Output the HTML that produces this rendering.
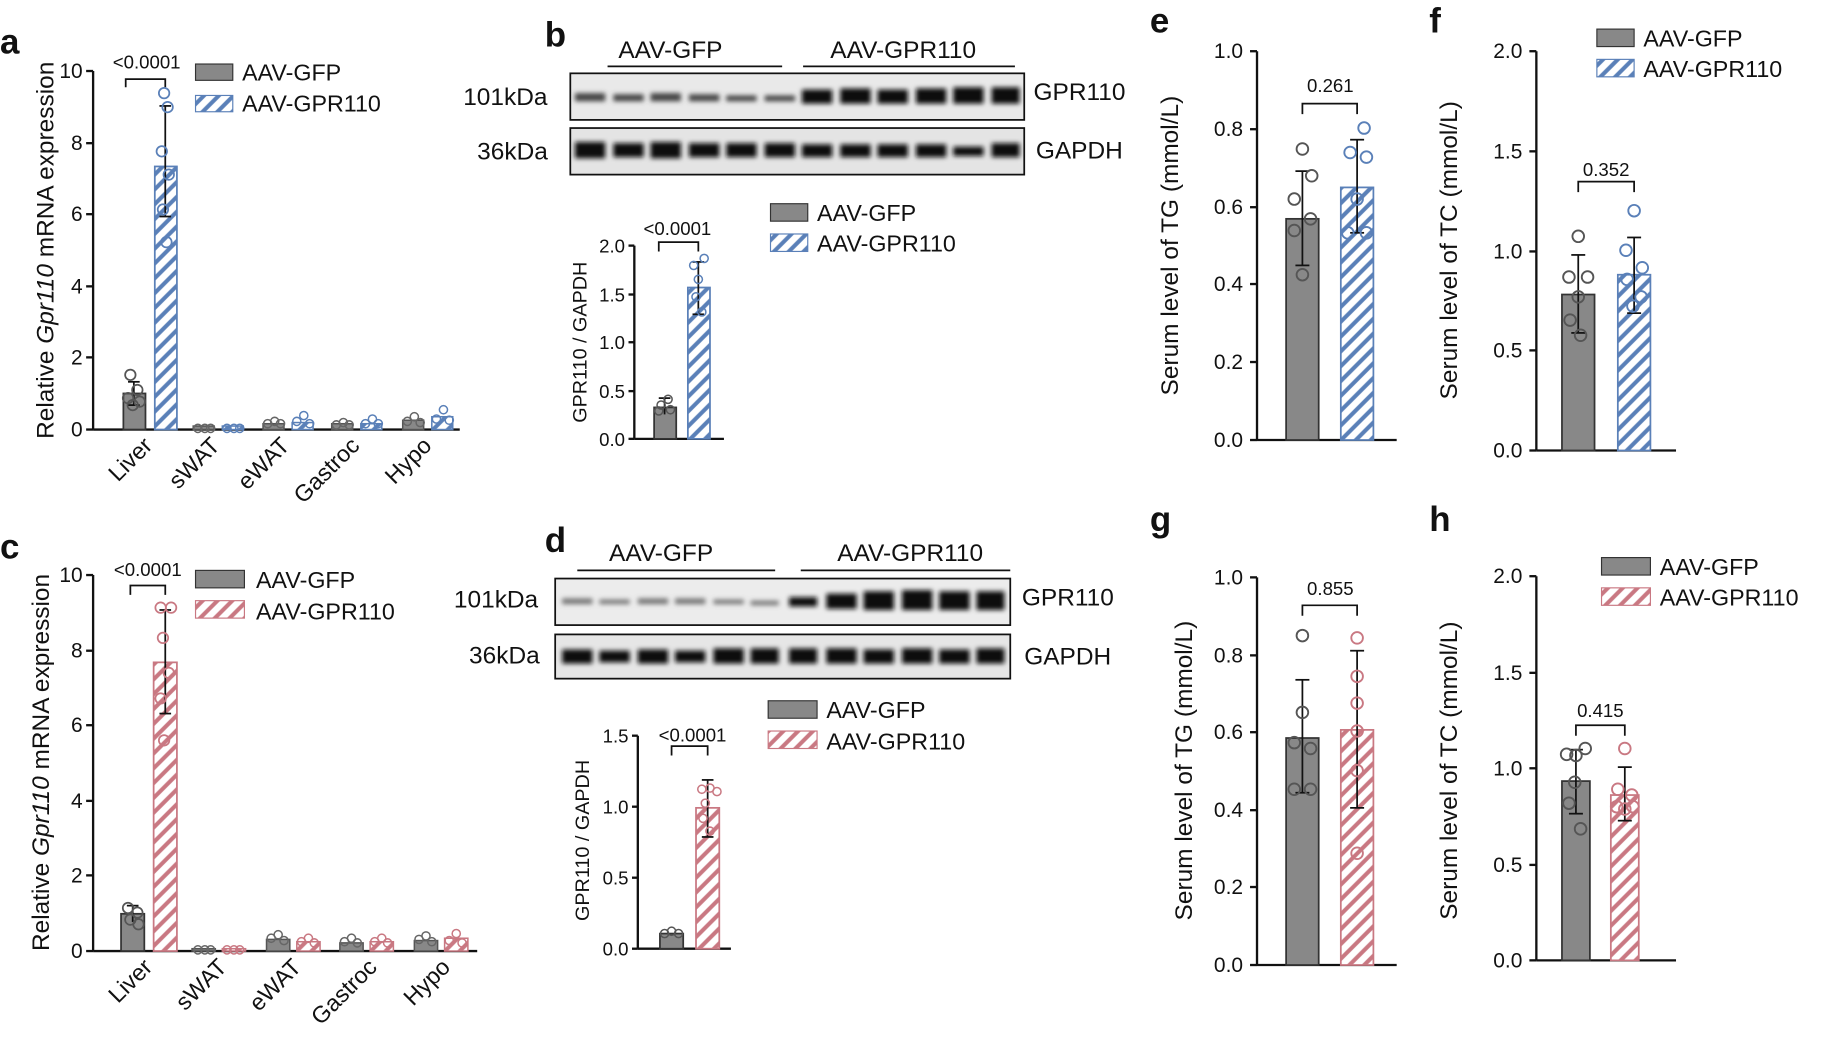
<!DOCTYPE html>
<html><head><meta charset="utf-8"><style>html,body{margin:0;padding:0;background:#fff}svg{display:block}text{font-family:"Liberation Sans",Arial,sans-serif;fill:#111}</style></head><body>
<svg width="1825" height="1043" viewBox="0 0 1568 896" preserveAspectRatio="none" xmlns="http://www.w3.org/2000/svg">
<defs>
<pattern id="hb" width="9" height="9" patternUnits="userSpaceOnUse" patternTransform="rotate(45)"><rect width="9" height="9" fill="#fff"/><line x1="2" y1="0" x2="2" y2="9" stroke="#5a80b8" stroke-width="3.5"/></pattern>
<pattern id="hr" width="9" height="9" patternUnits="userSpaceOnUse" patternTransform="rotate(45)"><rect width="9" height="9" fill="#fff"/><line x1="2" y1="0" x2="2" y2="9" stroke="#c97882" stroke-width="3.5"/></pattern>
<filter id="bl"><feGaussianBlur stdDeviation="2"/></filter>
</defs>
<g font-size="30" font-weight="bold">
<text x="0" y="46">a</text><text x="468" y="40">b</text><text x="0" y="480">c</text><text x="468" y="474">d</text>
<text x="988" y="28">e</text><text x="1228" y="28">f</text><text x="988" y="456">g</text><text x="1228" y="456">h</text>
</g>

<!-- Panel a -->
<g stroke="#111" stroke-width="2" fill="none">
<line x1="80" y1="61" x2="80" y2="369"/><line x1="80" y1="369" x2="395" y2="369"/>
<line x1="74" y1="61" x2="80" y2="61"/><line x1="74" y1="123" x2="80" y2="123"/><line x1="74" y1="184" x2="80" y2="184"/><line x1="74" y1="246" x2="80" y2="246"/><line x1="74" y1="307" x2="80" y2="307"/><line x1="74" y1="369" x2="80" y2="369"/>
</g>
<g font-size="18" text-anchor="end"><text x="71" y="67">10</text><text x="71" y="129">8</text><text x="71" y="190">6</text><text x="71" y="252">4</text><text x="71" y="313">2</text><text x="71" y="375">0</text></g>
<text transform="translate(46,215) rotate(-90)" font-size="21" text-anchor="middle">Relative <tspan font-style="italic">Gpr110</tspan> mRNA expression</text>
<rect x="106" y="338" width="19" height="31" fill="#888" stroke="#333" stroke-width="1.5"/>
<rect x="133" y="143" width="19" height="226" fill="url(#hb)" stroke="#5a80b8" stroke-width="1.5"/>
<g stroke="#111" stroke-width="1.5" fill="none"><line x1="115" y1="328" x2="115" y2="348"/><line x1="110" y1="328" x2="120" y2="328"/><line x1="110" y1="348" x2="120" y2="348"/>
<line x1="142" y1="91" x2="142" y2="186"/><line x1="137" y1="91" x2="147" y2="91"/><line x1="137" y1="186" x2="147" y2="186"/>
<path d="M108 75 V68 H142 V75"/></g>
<g fill="none" stroke="#555" stroke-width="1.5"><circle cx="112" cy="322" r="4.5"/><circle cx="118" cy="335" r="4.5"/><circle cx="110" cy="342" r="4.5"/><circle cx="120" cy="345" r="4.5"/><circle cx="114" cy="348" r="4.5"/></g>
<g fill="none" stroke="#5a80b8" stroke-width="1.5"><circle cx="141" cy="80" r="4.5"/><circle cx="144" cy="92" r="4.5"/><circle cx="139" cy="130" r="4.5"/><circle cx="145" cy="150" r="4.5"/><circle cx="140" cy="180" r="4.5"/><circle cx="143" cy="208" r="4.5"/></g>
<text x="126" y="59" font-size="16" text-anchor="middle">&lt;0.0001</text>
<g fill="#888" stroke="#555" stroke-width="1.3">
<rect x="166" y="366" width="18" height="3"/><rect x="226" y="364" width="18" height="5"/><rect x="285" y="364" width="18" height="5"/><rect x="346" y="361" width="18" height="8"/></g>
<g fill="url(#hb)" stroke="#5a80b8" stroke-width="1.3"><rect x="191" y="366" width="18" height="3"/><rect x="251" y="363" width="18" height="6"/><rect x="310" y="364" width="18" height="5"/><rect x="371" y="358" width="18" height="11"/></g>
<g fill="none" stroke="#666" stroke-width="1.3"><circle cx="170" cy="368" r="3.5"/><circle cx="176" cy="368" r="3.5"/><circle cx="181" cy="368" r="3.5"/><circle cx="230" cy="364" r="3.5"/><circle cx="236" cy="362" r="3.5"/><circle cx="241" cy="364" r="3.5"/><circle cx="289" cy="365" r="3.5"/><circle cx="295" cy="363" r="3.5"/><circle cx="300" cy="365" r="3.5"/><circle cx="350" cy="362" r="3.5"/><circle cx="356" cy="358" r="3.5"/><circle cx="361" cy="363" r="3.5"/></g>
<g fill="none" stroke="#5a80b8" stroke-width="1.3"><circle cx="195" cy="368" r="3.5"/><circle cx="201" cy="368" r="3.5"/><circle cx="206" cy="368" r="3.5"/><circle cx="255" cy="362" r="3.5"/><circle cx="261" cy="357" r="3.5"/><circle cx="266" cy="364" r="3.5"/><circle cx="314" cy="364" r="3.5"/><circle cx="320" cy="360" r="3.5"/><circle cx="325" cy="364" r="3.5"/><circle cx="375" cy="360" r="3.5"/><circle cx="381" cy="352" r="3.5"/><circle cx="386" cy="361" r="3.5"/></g>
<g font-size="20" text-anchor="end">
<text transform="translate(132,384) rotate(-45)">Liver</text><text transform="translate(190,384) rotate(-45)">sWAT</text><text transform="translate(250,384) rotate(-45)">eWAT</text><text transform="translate(310,384) rotate(-45)">Gastroc</text><text transform="translate(372,384) rotate(-45)">Hypo</text></g>
<rect x="168" y="55" width="32" height="14" fill="#888" stroke="#333"/><text x="208" y="69" font-size="20">AAV-GFP</text>
<rect x="168" y="82" width="32" height="14" fill="url(#hb)" stroke="#5a80b8"/><text x="208" y="96" font-size="20">AAV-GPR110</text>

<!-- Panel c -->
<g stroke="#111" stroke-width="2" fill="none">
<line x1="80" y1="494" x2="80" y2="817"/><line x1="80" y1="817" x2="410" y2="817"/>
<line x1="74" y1="494" x2="80" y2="494"/><line x1="74" y1="559" x2="80" y2="559"/><line x1="74" y1="623" x2="80" y2="623"/><line x1="74" y1="688" x2="80" y2="688"/><line x1="74" y1="752" x2="80" y2="752"/><line x1="74" y1="817" x2="80" y2="817"/>
</g>
<g font-size="18" text-anchor="end"><text x="71" y="500">10</text><text x="71" y="565">8</text><text x="71" y="629">6</text><text x="71" y="694">4</text><text x="71" y="758">2</text><text x="71" y="823">0</text></g>
<text transform="translate(42,655) rotate(-90)" font-size="21" text-anchor="middle">Relative <tspan font-style="italic">Gpr110</tspan> mRNA expression</text>
<rect x="104" y="785" width="20" height="32" fill="#888" stroke="#333" stroke-width="1.5"/>
<rect x="132" y="569" width="20" height="248" fill="url(#hr)" stroke="#c97882" stroke-width="1.5"/>
<g stroke="#111" stroke-width="1.5" fill="none"><line x1="142" y1="524" x2="142" y2="613"/><line x1="137" y1="524" x2="147" y2="524"/><line x1="137" y1="613" x2="147" y2="613"/>
<line x1="114" y1="778" x2="114" y2="792"/><line x1="109" y1="778" x2="119" y2="778"/>
<path d="M112 511 V503 H142 V511"/></g>
<g fill="none" stroke="#555" stroke-width="1.5"><circle cx="110" cy="780" r="4.5"/><circle cx="118" cy="784" r="4.5"/><circle cx="112" cy="790" r="4.5"/><circle cx="119" cy="794" r="4.5"/></g>
<g fill="none" stroke="#c97882" stroke-width="1.5"><circle cx="138" cy="522" r="4.5"/><circle cx="147" cy="522" r="4.5"/><circle cx="140" cy="548" r="4.5"/><circle cx="145" cy="578" r="4.5"/><circle cx="138" cy="600" r="4.5"/><circle cx="141" cy="636" r="4.5"/></g>
<text x="127" y="495" font-size="16" text-anchor="middle">&lt;0.0001</text>
<g fill="#888" stroke="#555" stroke-width="1.3">
<rect x="165" y="815" width="20" height="2"/><rect x="229" y="807" width="20" height="10"/><rect x="292" y="810" width="20" height="7"/><rect x="356" y="808" width="20" height="9"/></g>
<g fill="url(#hr)" stroke="#c97882" stroke-width="1.3"><rect x="191" y="815" width="20" height="2"/><rect x="255" y="809" width="20" height="8"/><rect x="318" y="809" width="20" height="8"/><rect x="382" y="806" width="20" height="11"/></g>
<g fill="none" stroke="#666" stroke-width="1.3"><circle cx="170" cy="816" r="3.5"/><circle cx="176" cy="816" r="3.5"/><circle cx="181" cy="816" r="3.5"/><circle cx="233" cy="806" r="3.5"/><circle cx="239" cy="803" r="3.5"/><circle cx="244" cy="808" r="3.5"/><circle cx="296" cy="809" r="3.5"/><circle cx="302" cy="806" r="3.5"/><circle cx="307" cy="810" r="3.5"/><circle cx="360" cy="807" r="3.5"/><circle cx="366" cy="804" r="3.5"/><circle cx="371" cy="809" r="3.5"/></g>
<g fill="none" stroke="#c97882" stroke-width="1.3"><circle cx="195" cy="816" r="3.5"/><circle cx="201" cy="816" r="3.5"/><circle cx="206" cy="816" r="3.5"/><circle cx="259" cy="809" r="3.5"/><circle cx="265" cy="806" r="3.5"/><circle cx="270" cy="810" r="3.5"/><circle cx="322" cy="809" r="3.5"/><circle cx="328" cy="806" r="3.5"/><circle cx="333" cy="810" r="3.5"/><circle cx="386" cy="808" r="3.5"/><circle cx="392" cy="802" r="3.5"/><circle cx="397" cy="810" r="3.5"/></g>
<g font-size="20" text-anchor="end">
<text transform="translate(132,832) rotate(-45)">Liver</text><text transform="translate(196,832) rotate(-45)">sWAT</text><text transform="translate(260,832) rotate(-45)">eWAT</text><text transform="translate(325,832) rotate(-45)">Gastroc</text><text transform="translate(388,832) rotate(-45)">Hypo</text></g>
<rect x="168" y="490" width="42" height="15" fill="#888" stroke="#333"/><text x="220" y="505" font-size="20">AAV-GFP</text>
<rect x="168" y="516" width="42" height="15" fill="url(#hr)" stroke="#c97882"/><text x="220" y="532" font-size="20">AAV-GPR110</text>

<!-- Panel b blots -->
<g font-size="21" text-anchor="middle"><text x="576" y="50">AAV-GFP</text><text x="776" y="50">AAV-GPR110</text></g>
<line x1="522" y1="57" x2="672" y2="57" stroke="#111" stroke-width="1.5"/><line x1="690" y1="57" x2="872" y2="57" stroke="#111" stroke-width="1.5"/>
<rect x="490" y="63" width="390" height="40" fill="#e9e9e9" stroke="#111" stroke-width="1.5"/>
<rect x="490" y="110" width="390" height="40" fill="#e4e4e4" stroke="#111" stroke-width="1.5"/>
<g filter="url(#bl)">
<g fill="#444"><rect x="494" y="80" width="26" height="7"/><rect x="527" y="81" width="26" height="6"/><rect x="559" y="80" width="26" height="7"/><rect x="592" y="81" width="26" height="6"/><rect x="624" y="82" width="26" height="5"/><rect x="657" y="82" width="26" height="5"/></g>
<g fill="#111"><rect x="689" y="77" width="26" height="12"/><rect x="722" y="76" width="26" height="13"/><rect x="754" y="77" width="26" height="12"/><rect x="787" y="76" width="26" height="13"/><rect x="819" y="75" width="26" height="14"/><rect x="852" y="75" width="24" height="14"/></g>
<g fill="#111"><rect x="494" y="122" width="26" height="14"/><rect x="527" y="123" width="26" height="12"/><rect x="559" y="122" width="26" height="14"/><rect x="592" y="123" width="26" height="12"/><rect x="624" y="123" width="26" height="12"/><rect x="657" y="123" width="26" height="12"/><rect x="689" y="124" width="26" height="11"/><rect x="722" y="124" width="26" height="11"/><rect x="754" y="124" width="26" height="11"/><rect x="787" y="124" width="26" height="11"/><rect x="819" y="126" width="26" height="8"/><rect x="852" y="123" width="24" height="12"/></g>
</g>
<g font-size="21"><text x="398" y="90">101kDa</text><text x="410" y="137">36kDa</text><text x="888" y="86">GPR110</text><text x="890" y="136">GAPDH</text></g>
<!-- b chart -->
<g stroke="#111" stroke-width="2" fill="none"><line x1="545" y1="211" x2="545" y2="377"/><line x1="545" y1="377" x2="622" y2="377"/>
<line x1="540" y1="211" x2="545" y2="211"/><line x1="540" y1="253" x2="545" y2="253"/><line x1="540" y1="294" x2="545" y2="294"/><line x1="540" y1="336" x2="545" y2="336"/><line x1="540" y1="377" x2="545" y2="377"/></g>
<g font-size="16" text-anchor="end"><text x="537" y="217">2.0</text><text x="537" y="259">1.5</text><text x="537" y="300">1.0</text><text x="537" y="342">0.5</text><text x="537" y="383">0.0</text></g>
<text transform="translate(504,294) rotate(-90)" font-size="17" text-anchor="middle">GPR110 / GAPDH</text>
<rect x="562" y="350" width="19" height="27" fill="#888" stroke="#333" stroke-width="1.5"/>
<rect x="591" y="247" width="19" height="130" fill="url(#hb)" stroke="#5a80b8" stroke-width="1.5"/>
<g stroke="#111" stroke-width="1.5" fill="none"><line x1="600" y1="225" x2="600" y2="270"/><line x1="595" y1="225" x2="605" y2="225"/><line x1="595" y1="270" x2="605" y2="270"/><line x1="571" y1="342" x2="571" y2="356"/><line x1="566" y1="342" x2="576" y2="342"/><path d="M566 216 V208 H600 V216"/></g>
<g fill="none" stroke="#555" stroke-width="1.3"><circle cx="568" cy="348" r="3.5"/><circle cx="574" cy="343" r="3.5"/><circle cx="566" cy="353" r="3.5"/><circle cx="576" cy="352" r="3.5"/></g>
<g fill="none" stroke="#5a80b8" stroke-width="1.3"><circle cx="596" cy="228" r="3.5"/><circle cx="605" cy="222" r="3.5"/><circle cx="600" cy="240" r="3.5"/><circle cx="598" cy="255" r="3.5"/><circle cx="603" cy="268" r="3.5"/></g>
<text x="582" y="202" font-size="16" text-anchor="middle">&lt;0.0001</text>
<rect x="662" y="175" width="32" height="15" fill="#888" stroke="#333"/><text x="702" y="190" font-size="20">AAV-GFP</text>
<rect x="662" y="201" width="32" height="15" fill="url(#hb)" stroke="#5a80b8"/><text x="702" y="216" font-size="20">AAV-GPR110</text>

<!-- Panel d blots -->
<g font-size="21" text-anchor="middle"><text x="568" y="482">AAV-GFP</text><text x="782" y="482">AAV-GPR110</text></g>
<line x1="496" y1="490" x2="666" y2="490" stroke="#111" stroke-width="1.5"/><line x1="688" y1="490" x2="868" y2="490" stroke="#111" stroke-width="1.5"/>
<rect x="477" y="497" width="391" height="40" fill="#ececec" stroke="#111" stroke-width="1.5"/>
<rect x="477" y="545" width="391" height="38" fill="#e6e6e6" stroke="#111" stroke-width="1.5"/>
<g filter="url(#bl)">
<g fill="#777"><rect x="483" y="514" width="26" height="5"/><rect x="515" y="515" width="26" height="4"/><rect x="548" y="514" width="26" height="5"/><rect x="580" y="514" width="26" height="5"/><rect x="613" y="515" width="26" height="4"/><rect x="645" y="516" width="24" height="4"/></g>
<g fill="#111"><rect x="678" y="513" width="24" height="8"/><rect x="710" y="510" width="26" height="13"/><rect x="742" y="508" width="26" height="16"/><rect x="775" y="507" width="26" height="17"/><rect x="807" y="508" width="26" height="16"/><rect x="839" y="508" width="24" height="16"/></g>
<g fill="#111"><rect x="483" y="558" width="26" height="12"/><rect x="515" y="559" width="26" height="10"/><rect x="548" y="558" width="26" height="12"/><rect x="580" y="559" width="26" height="10"/><rect x="613" y="557" width="26" height="13"/><rect x="645" y="557" width="24" height="13"/><rect x="678" y="557" width="24" height="13"/><rect x="710" y="557" width="26" height="13"/><rect x="742" y="558" width="26" height="12"/><rect x="775" y="557" width="26" height="13"/><rect x="807" y="558" width="26" height="12"/><rect x="839" y="557" width="24" height="13"/></g>
</g>
<g font-size="21"><text x="390" y="522">101kDa</text><text x="403" y="570">36kDa</text><text x="878" y="520">GPR110</text><text x="880" y="571">GAPDH</text></g>
<!-- d chart -->
<g stroke="#111" stroke-width="2" fill="none"><line x1="548" y1="632" x2="548" y2="815"/><line x1="548" y1="815" x2="628" y2="815"/>
<line x1="543" y1="632" x2="548" y2="632"/><line x1="543" y1="693" x2="548" y2="693"/><line x1="543" y1="754" x2="548" y2="754"/><line x1="543" y1="815" x2="548" y2="815"/></g>
<g font-size="16" text-anchor="end"><text x="540" y="638">1.5</text><text x="540" y="699">1.0</text><text x="540" y="760">0.5</text><text x="540" y="821">0.0</text></g>
<text transform="translate(506,722) rotate(-90)" font-size="17" text-anchor="middle">GPR110 / GAPDH</text>
<rect x="567" y="802" width="20" height="13" fill="#888" stroke="#333" stroke-width="1.5"/>
<rect x="598" y="694" width="20" height="121" fill="url(#hr)" stroke="#c97882" stroke-width="1.5"/>
<g stroke="#111" stroke-width="1.5" fill="none"><line x1="608" y1="670" x2="608" y2="719"/><line x1="603" y1="670" x2="613" y2="670"/><line x1="603" y1="719" x2="613" y2="719"/><path d="M577 649 V641 H608 V649"/></g>
<g fill="none" stroke="#555" stroke-width="1.3"><circle cx="571" cy="802" r="3.5"/><circle cx="577" cy="800" r="3.5"/><circle cx="583" cy="802" r="3.5"/></g>
<g fill="none" stroke="#c97882" stroke-width="1.3"><circle cx="603" cy="678" r="3.5"/><circle cx="610" cy="677" r="3.5"/><circle cx="616" cy="680" r="3.5"/><circle cx="606" cy="690" r="3.5"/><circle cx="604" cy="703" r="3.5"/><circle cx="610" cy="714" r="3.5"/></g>
<text x="595" y="637" font-size="16" text-anchor="middle">&lt;0.0001</text>
<rect x="660" y="602" width="42" height="15" fill="#888" stroke="#333"/><text x="710" y="617" font-size="20">AAV-GFP</text>
<rect x="660" y="628" width="42" height="15" fill="url(#hr)" stroke="#c97882"/><text x="710" y="644" font-size="20">AAV-GPR110</text>

<!-- Panel e -->
<g stroke="#111" stroke-width="2" fill="none"><line x1="1080" y1="44" x2="1080" y2="378"/><line x1="1080" y1="378" x2="1200" y2="378"/>
<line x1="1074" y1="44" x2="1080" y2="44"/><line x1="1074" y1="111" x2="1080" y2="111"/><line x1="1074" y1="178" x2="1080" y2="178"/><line x1="1074" y1="244" x2="1080" y2="244"/><line x1="1074" y1="311" x2="1080" y2="311"/><line x1="1074" y1="378" x2="1080" y2="378"/></g>
<g font-size="18" text-anchor="end"><text x="1068" y="50">1.0</text><text x="1068" y="117">0.8</text><text x="1068" y="184">0.6</text><text x="1068" y="250">0.4</text><text x="1068" y="317">0.2</text><text x="1068" y="384">0.0</text></g>
<text transform="translate(1012,211) rotate(-90)" font-size="21" text-anchor="middle">Serum level of TG (mmol/L)</text>
<rect x="1105" y="188" width="28" height="190" fill="#888" stroke="#333" stroke-width="1.5"/>
<rect x="1152" y="161" width="28" height="217" fill="url(#hb)" stroke="#5a80b8" stroke-width="1.5"/>
<g stroke="#111" stroke-width="1.5" fill="none"><line x1="1119" y1="147" x2="1119" y2="228"/><line x1="1113" y1="147" x2="1125" y2="147"/><line x1="1113" y1="228" x2="1125" y2="228"/><line x1="1166" y1="120" x2="1166" y2="200"/><line x1="1160" y1="120" x2="1172" y2="120"/><line x1="1160" y1="200" x2="1172" y2="200"/><path d="M1119 98 V89 H1166 V98"/></g>
<g fill="none" stroke="#555" stroke-width="1.6"><circle cx="1119" cy="128" r="5"/><circle cx="1127" cy="151" r="5"/><circle cx="1112" cy="171" r="5"/><circle cx="1126" cy="188" r="5"/><circle cx="1112" cy="198" r="5"/><circle cx="1119" cy="236" r="5"/></g>
<g fill="none" stroke="#5a80b8" stroke-width="1.6"><circle cx="1172" cy="110" r="5"/><circle cx="1160" cy="131" r="5"/><circle cx="1174" cy="135" r="5"/><circle cx="1166" cy="171" r="5"/><circle cx="1158" cy="200" r="5"/><circle cx="1174" cy="200" r="5"/></g>
<text x="1143" y="79" font-size="16" text-anchor="middle">0.261</text>

<!-- Panel f -->
<g stroke="#111" stroke-width="2" fill="none"><line x1="1320" y1="44" x2="1320" y2="387"/><line x1="1320" y1="387" x2="1440" y2="387"/>
<line x1="1314" y1="44" x2="1320" y2="44"/><line x1="1314" y1="130" x2="1320" y2="130"/><line x1="1314" y1="216" x2="1320" y2="216"/><line x1="1314" y1="301" x2="1320" y2="301"/><line x1="1314" y1="387" x2="1320" y2="387"/></g>
<g font-size="18" text-anchor="end"><text x="1308" y="50">2.0</text><text x="1308" y="136">1.5</text><text x="1308" y="222">1.0</text><text x="1308" y="307">0.5</text><text x="1308" y="393">0.0</text></g>
<text transform="translate(1252,215) rotate(-90)" font-size="21" text-anchor="middle">Serum level of TC (mmol/L)</text>
<rect x="1342" y="253" width="28" height="134" fill="#888" stroke="#333" stroke-width="1.5"/>
<rect x="1390" y="236" width="28" height="151" fill="url(#hb)" stroke="#5a80b8" stroke-width="1.5"/>
<g stroke="#111" stroke-width="1.5" fill="none"><line x1="1356" y1="219" x2="1356" y2="286"/><line x1="1350" y1="219" x2="1362" y2="219"/><line x1="1350" y1="286" x2="1362" y2="286"/><line x1="1404" y1="204" x2="1404" y2="269"/><line x1="1398" y1="204" x2="1410" y2="204"/><line x1="1398" y1="269" x2="1410" y2="269"/><path d="M1356 165 V156 H1404 V165"/></g>
<g fill="none" stroke="#555" stroke-width="1.6"><circle cx="1356" cy="203" r="5"/><circle cx="1348" cy="238" r="5"/><circle cx="1364" cy="238" r="5"/><circle cx="1356" cy="255" r="5"/><circle cx="1349" cy="275" r="5"/><circle cx="1358" cy="288" r="5"/></g>
<g fill="none" stroke="#5a80b8" stroke-width="1.6"><circle cx="1404" cy="181" r="5"/><circle cx="1397" cy="215" r="5"/><circle cx="1411" cy="230" r="5"/><circle cx="1398" cy="240" r="5"/><circle cx="1410" cy="255" r="5"/><circle cx="1403" cy="263" r="5"/></g>
<text x="1380" y="151" font-size="16" text-anchor="middle">0.352</text>
<rect x="1372" y="25" width="32" height="15" fill="#888" stroke="#333"/><text x="1412" y="40" font-size="20">AAV-GFP</text>
<rect x="1372" y="51" width="32" height="15" fill="url(#hb)" stroke="#5a80b8"/><text x="1412" y="66" font-size="20">AAV-GPR110</text>

<!-- Panel g -->
<g stroke="#111" stroke-width="2" fill="none"><line x1="1080" y1="496" x2="1080" y2="829"/><line x1="1080" y1="829" x2="1200" y2="829"/>
<line x1="1074" y1="496" x2="1080" y2="496"/><line x1="1074" y1="563" x2="1080" y2="563"/><line x1="1074" y1="629" x2="1080" y2="629"/><line x1="1074" y1="696" x2="1080" y2="696"/><line x1="1074" y1="762" x2="1080" y2="762"/><line x1="1074" y1="829" x2="1080" y2="829"/></g>
<g font-size="18" text-anchor="end"><text x="1068" y="502">1.0</text><text x="1068" y="569">0.8</text><text x="1068" y="635">0.6</text><text x="1068" y="702">0.4</text><text x="1068" y="768">0.2</text><text x="1068" y="835">0.0</text></g>
<text transform="translate(1024,662) rotate(-90)" font-size="21" text-anchor="middle">Serum level of TG (mmol/L)</text>
<rect x="1105" y="634" width="28" height="195" fill="#888" stroke="#333" stroke-width="1.5"/>
<rect x="1152" y="627" width="28" height="202" fill="url(#hr)" stroke="#c97882" stroke-width="1.5"/>
<g stroke="#111" stroke-width="1.5" fill="none"><line x1="1119" y1="584" x2="1119" y2="681"/><line x1="1113" y1="584" x2="1125" y2="584"/><line x1="1113" y1="681" x2="1125" y2="681"/><line x1="1166" y1="559" x2="1166" y2="694"/><line x1="1160" y1="559" x2="1172" y2="559"/><line x1="1160" y1="694" x2="1172" y2="694"/><path d="M1119 529 V520 H1166 V529"/></g>
<g fill="none" stroke="#555" stroke-width="1.6"><circle cx="1119" cy="546" r="5"/><circle cx="1119" cy="612" r="5"/><circle cx="1112" cy="638" r="5"/><circle cx="1126" cy="643" r="5"/><circle cx="1112" cy="678" r="5"/><circle cx="1126" cy="678" r="5"/></g>
<g fill="none" stroke="#c97882" stroke-width="1.6"><circle cx="1166" cy="548" r="5"/><circle cx="1166" cy="581" r="5"/><circle cx="1166" cy="604" r="5"/><circle cx="1166" cy="628" r="5"/><circle cx="1166" cy="662" r="5"/><circle cx="1166" cy="733" r="5"/></g>
<text x="1143" y="511" font-size="16" text-anchor="middle">0.855</text>

<!-- Panel h -->
<g stroke="#111" stroke-width="2" fill="none"><line x1="1320" y1="495" x2="1320" y2="825"/><line x1="1320" y1="825" x2="1440" y2="825"/>
<line x1="1314" y1="495" x2="1320" y2="495"/><line x1="1314" y1="578" x2="1320" y2="578"/><line x1="1314" y1="660" x2="1320" y2="660"/><line x1="1314" y1="743" x2="1320" y2="743"/><line x1="1314" y1="825" x2="1320" y2="825"/></g>
<g font-size="18" text-anchor="end"><text x="1308" y="501">2.0</text><text x="1308" y="584">1.5</text><text x="1308" y="666">1.0</text><text x="1308" y="749">0.5</text><text x="1308" y="831">0.0</text></g>
<text transform="translate(1252,662) rotate(-90)" font-size="21" text-anchor="middle">Serum level of TC (mmol/L)</text>
<rect x="1342" y="671" width="24" height="154" fill="#888" stroke="#333" stroke-width="1.5"/>
<rect x="1384" y="683" width="24" height="142" fill="url(#hr)" stroke="#c97882" stroke-width="1.5"/>
<g stroke="#111" stroke-width="1.5" fill="none"><line x1="1354" y1="644" x2="1354" y2="699"/><line x1="1348" y1="644" x2="1360" y2="644"/><line x1="1348" y1="699" x2="1360" y2="699"/><line x1="1396" y1="659" x2="1396" y2="705"/><line x1="1390" y1="659" x2="1402" y2="659"/><line x1="1390" y1="705" x2="1402" y2="705"/><path d="M1354 632 V623 H1396 V632"/></g>
<g fill="none" stroke="#555" stroke-width="1.6"><circle cx="1346" cy="648" r="5"/><circle cx="1354" cy="649" r="5"/><circle cx="1362" cy="643" r="5"/><circle cx="1353" cy="672" r="5"/><circle cx="1348" cy="690" r="5"/><circle cx="1358" cy="712" r="5"/></g>
<g fill="none" stroke="#c97882" stroke-width="1.6"><circle cx="1396" cy="643" r="5"/><circle cx="1390" cy="678" r="5"/><circle cx="1402" cy="683" r="5"/><circle cx="1389" cy="693" r="5"/><circle cx="1396" cy="695" r="5"/><circle cx="1403" cy="693" r="5"/></g>
<text x="1375" y="616" font-size="16" text-anchor="middle">0.415</text>
<rect x="1376" y="479" width="42" height="15" fill="#888" stroke="#333"/><text x="1426" y="494" font-size="20">AAV-GFP</text>
<rect x="1376" y="505" width="42" height="15" fill="url(#hr)" stroke="#c97882"/><text x="1426" y="520" font-size="20">AAV-GPR110</text>
</svg>
</body></html>
